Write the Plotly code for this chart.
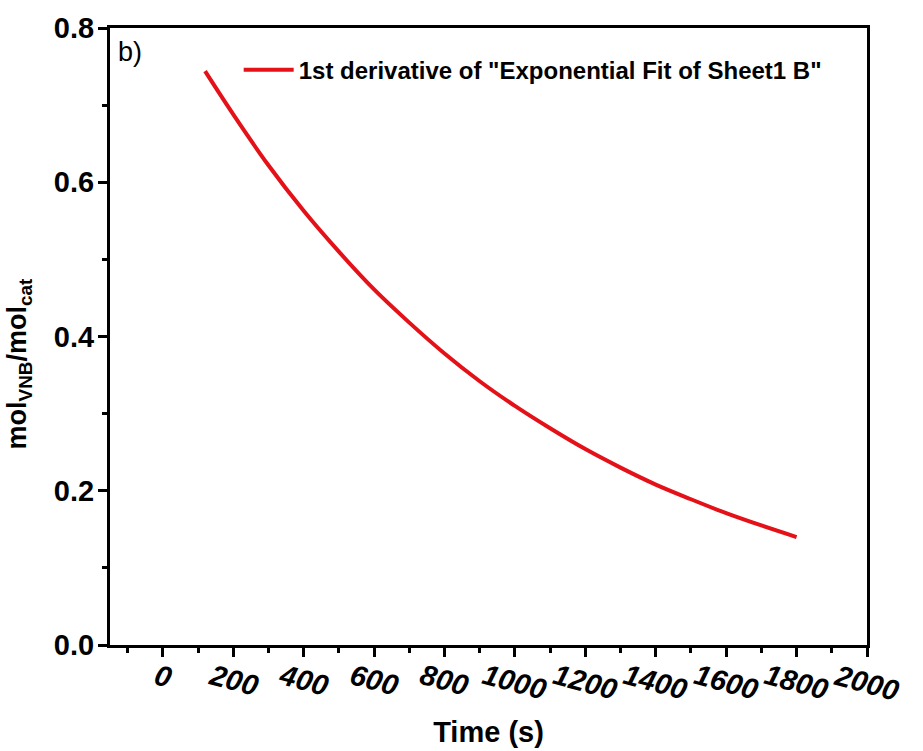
import plotly.graph_objects as go

# Time points (s) and the derivative of the exponential fit
time_s = [120, 200, 300, 400, 500, 600, 700, 800, 900, 1000,
          1100, 1200, 1300, 1400, 1500, 1600, 1700, 1800]
deriv = [0.744, 0.688, 0.622, 0.563, 0.510, 0.461, 0.418, 0.378, 0.342, 0.310,
         0.281, 0.254, 0.230, 0.208, 0.189, 0.171, 0.155, 0.140]

x_tick_vals = [0, 200, 400, 600, 800, 1000, 1200, 1400, 1600, 1800, 2000]
x_tick_text = [str(v) for v in x_tick_vals]
y_tick_vals = [0.0, 0.2, 0.4, 0.6, 0.8]
y_tick_text = ["0.0", "0.2", "0.4", "0.6", "0.8"]

series_name = '1st derivative of "Exponential Fit of Sheet1 B"'
y_title = "mol<sub>VNB</sub>/mol<sub>cat</sub>"
red = "rgb(228,18,24)"
font_family = "Liberation Sans, Arial, sans-serif"

fig = go.Figure()
fig.add_trace(go.Scatter(
    x=time_s, y=deriv, mode="lines", name=series_name,
    line=dict(color=red, width=4, shape="spline"),
))

# Slanted, italic x tick labels
annotations = []
for v, t in zip(x_tick_vals, x_tick_text):
    annotations.append(dict(
        x=v, xref="x", y=-0.018, yref="paper", text=t, showarrow=False,
        textangle=15, xanchor="center", yanchor="top",
        font=dict(family=font_family, size=29, color="black",
                  weight="bold", style="italic"),
    ))
# Panel letter
annotations.append(dict(
    x=0.008, xref="paper", y=0.988, yref="paper", text="b)", showarrow=False,
    xanchor="left", yanchor="top",
    font=dict(family=font_family, size=27, color="black"),
))
# Vertical y-axis title
annotations.append(dict(
    x=-0.12, xref="paper", y=0.455, yref="paper", text=y_title,
    showarrow=False, textangle=-90, xanchor="center", yanchor="middle",
    font=dict(family=font_family, size=27, color="black", weight="bold"),
))

fig.update_layout(
    width=923, height=751,
    margin=dict(l=110, r=56, t=28, b=106),
    paper_bgcolor="white", plot_bgcolor="white",
    showlegend=True,
    legend=dict(
        x=0.17, y=0.968, xanchor="left", yanchor="top",
        bgcolor="rgba(0,0,0,0)", itemwidth=50,
        font=dict(family=font_family, size=24, color="black", weight="bold"),
    ),
    annotations=annotations,
    xaxis=dict(
        range=[-150, 2000], tickmode="array", tickvals=x_tick_vals,
        showticklabels=False, ticks="outside", ticklen=9, tickwidth=3,
        tickcolor="black", showline=True, linecolor="black", linewidth=3,
        mirror=True, showgrid=False, zeroline=False,
        minor=dict(dtick=100, tick0=0, ticks="outside", ticklen=5,
                   tickwidth=3, tickcolor="black", showgrid=False),
        title=dict(text="Time (s)", standoff=66,
                   font=dict(family=font_family, size=29, color="black",
                             weight="bold")),
    ),
    yaxis=dict(
        range=[0, 0.8], tickmode="array", tickvals=y_tick_vals,
        ticktext=y_tick_text, ticks="outside", ticklen=9, tickwidth=3,
        tickcolor="black", showline=True, linecolor="black", linewidth=3,
        mirror=True, showgrid=False, zeroline=False,
        minor=dict(dtick=0.1, tick0=0, ticks="outside", ticklen=5,
                   tickwidth=3, tickcolor="black", showgrid=False),
        tickfont=dict(family=font_family, size=29, color="black",
                      weight="bold"),
        ticklabelstandoff=-2,
    ),
)

fig.write_html("out.html")
